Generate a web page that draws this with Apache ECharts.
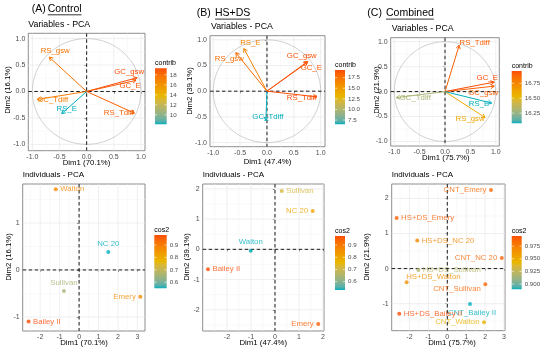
<!DOCTYPE html>
<html><head><meta charset="utf-8">
<script src="https://cdn.jsdelivr.net/npm/echarts@6/dist/echarts.min.js"></script>
<style>html,body{margin:0;padding:0;background:#fff}#c{width:550px;height:351px}</style>
</head><body><div id="c"></div>
<script>
// ================= DATA =================
// Variables - PCA (arrow tips: Dim1, Dim2; contribution)
const varNames = ['GC_gsw', 'GC_E', 'GC_Tdiff', 'RS_gsw', 'RS_E', 'RS_Tdiff'];
const varA_dim1 = [0.93, 0.91, -0.91, -0.69, -0.46, 0.88];
const varA_dim2 = [0.26, 0.21, -0.15, 0.65, -0.42, -0.41];
const varA_contrib = [19.3, 18.9, 17.2, 17.6, 8.1, 18.6];

const varB_dim1 = [0.76, 0.75, -0.02, -0.58, -0.43, 0.93];
const varB_dim2 = [0.58, 0.56, -0.57, 0.75, 0.83, -0.11];
const varB_contrib = [19.2, 19.0, 6.5, 17.8, 16.5, 19.3];

const varC_dim1 = [0.97, 0.97, -0.96, 0.79, 0.92, 0.28];
const varC_dim2 = [0.11, 0.19, -0.12, -0.52, -0.23, 0.93];
const varC_contrib = [16.9, 16.955, 16.3, 16.6, 16.08, 16.9];

// Individuals - PCA
const indA_names = ['Walton', 'NC 20', 'Sullivan', 'Emery', 'Bailey II'];
const indA_dim1 = [-1.2, 1.5, -0.78, 3.15, -2.6];
const indA_dim2 = [1.72, 0.38, -0.45, -0.57, -1.1];
const indA_cos2 = [0.88, 0.552, 0.66, 0.87, 0.98];

const indB_names = ['Sullivan', 'NC 20', 'Walton', 'Bailey II', 'Emery'];
const indB_dim1 = [0.28, 1.57, -1.01, -2.79, 1.8];
const indB_dim2 = [1.93, 1.27, -0.05, -0.66, -2.47];
const indB_cos2 = [0.72, 0.80, 0.532, 0.974, 0.95];

const indC_names = ['CNT_Emery', 'HS+DS_Emery', 'HS+DS_NC 20', 'CNT_NC 20', 'HS+DS_Sullivan',
  'HS+DS_Walton', 'CNT_Sullivan', 'CNT_Bailey II', 'HS+DS_Bailey II', 'CNT_Walton'];
const indC_dim1 = [2.31, -2.68, -1.59, 2.88, -1.53, -2.15, 2.01, 1.2, -2.54, 1.94];
const indC_dim2 = [2.24, 1.44, 0.8, 0.3, -0.04, -0.39, -0.45, -1.01, -1.29, -1.53];
const indC_cos2 = [0.985, 0.99, 0.97, 0.985, 0.92, 0.965, 0.985, 0.8896, 0.995, 0.945];

// Tick labels
const varTicks = [-1, -0.5, 0, 0.5, 1];
const indA_xTicks = [-2, -1, 0, 1, 2, 3];
const indA_yTicks = [-1, 0, 1];
const indB_xTicks = [-2, -1, 0, 1, 2];
const indB_yTicks = [-2, -1, 0, 1, 2];
const indC_xTicks = [-2, -1, 0, 1, 2, 3];
const indC_yTicks = [-1, 0, 1, 2];
const cbA_var = [10, 12, 14, 16, 18];
const cbB_var = [7.5, 10, 12.5, 15, 17.5];
const cbC_var = [16.25, 16.5, 16.75];
const cbA_ind = [0.6, 0.7, 0.8, 0.9];
const cbB_ind = [0.6, 0.7, 0.8, 0.9];
const cbC_ind = [0.9, 0.925, 0.95, 0.975];

// ================= STYLE / LAYOUT =================
const FONT = '"Liberation Sans", Arial, Helvetica, sans-serif';
// label offsets (px) of variable labels from arrow tips
const varA_lab = [[-8, -6], [-6, 5], [15.5, 0], [6, -6], [5, -5], [-15.5, 0]];
const varB_lab = [[-6, -6], [4, 5.5], [2, -4], [-6.5, 6], [6.5, -5.5], [-15, 0.6]];
const varC_lab = [[-11, 6.7], [-7, -4], [19, 0], [-15, 1.6], [-12.7, 1], [15.5, -2.6]];
const indA_lab = [['right'], ['top'], ['top'], ['left'], ['right']];
const indB_lab = [['right'], ['left'], ['top'], ['right'], ['left']];
const indC_lab = [['left'], ['right'], ['right'], ['left'], ['right'], ['right', [-5, -5]],
  ['left', [0, 4]], ['bottom', [2, 0]], ['right'], ['left']];

// ---- Lab colour interpolation (like ggplot gradientn) ----
function hex2rgb(h) { return [1, 3, 5].map(i => parseInt(h.slice(i, i + 2), 16)); }
function s2l(c) { c /= 255; return c <= 0.04045 ? c / 12.92 : Math.pow((c + 0.055) / 1.055, 2.4); }
function l2s(c) { c = c <= 0.0031308 ? 12.92 * c : 1.055 * Math.pow(c, 1 / 2.4) - 0.055; return Math.max(0, Math.min(255, Math.round(c * 255))); }
function rgb2lab(rgb) {
  const [r, g, b] = rgb.map(s2l);
  const X = (0.4124 * r + 0.3576 * g + 0.1805 * b) / 0.95047, Y = 0.2126 * r + 0.7152 * g + 0.0722 * b,
    Z = (0.0193 * r + 0.1192 * g + 0.9505 * b) / 1.08883;
  const f = t => t > 0.008856 ? Math.cbrt(t) : 7.787 * t + 16 / 116;
  const fx = f(X), fy = f(Y), fz = f(Z);
  return [116 * fy - 16, 500 * (fx - fy), 200 * (fy - fz)];
}
function lab2rgb([L, a, b]) {
  const fy = (L + 16) / 116, fx = fy + a / 500, fz = fy - b / 200;
  const fi = t => t > 0.206893 ? t * t * t : (t - 16 / 116) / 7.787;
  const X = fi(fx) * 0.95047, Y = fi(fy), Z = fi(fz) * 1.08883;
  return [3.2406 * X - 1.5372 * Y - 0.4986 * Z, -0.9689 * X + 1.8758 * Y + 0.0415 * Z, 0.0557 * X - 0.2040 * Y + 1.0570 * Z].map(l2s);
}
const gStops = ['#00AFBB', '#E7B800', '#FC4E07'].map(h => rgb2lab(hex2rgb(h)));
function gradColor(t) {
  t = Math.max(0, Math.min(1, t));
  const s = t * (gStops.length - 1), i = Math.min(gStops.length - 2, Math.floor(s)), f = s - i;
  const a = gStops[i], b = gStops[i + 1];
  return 'rgb(' + lab2rgb([0, 1, 2].map(k => a[k] + (b[k] - a[k]) * f)).join(',') + ')';
}

const grids = [], xAxes = [], yAxes = [], series = [], graphics = [];

function minors(t, r) {
  const s = t[1] - t[0], out = [];
  for (let v = t[0] - s / 2; v <= r[1] + 1e-9; v += s) if (v >= r[0] - 1e-9) out.push(v);
  return out;
}

function axisCfg(gi, ticks, range, fmt) {
  return {
    type: 'value', gridIndex: gi, min: range[0], max: range[1],
    axisLine: { show: false }, splitLine: { show: false },
    axisTick: { show: true, length: 2.2, customValues: ticks, lineStyle: { color: '#333', width: 0.7 } },
    axisLabel: { customValues: ticks, formatter: fmt, fontSize: 7, color: '#4D4D4D', margin: 3, fontFamily: FONT }
  };
}

function addPlot(P) {
  const gi = grids.length;
  grids.push({ left: P.box[0], top: P.box[1], width: P.box[2], height: P.box[3], show: true,
    borderColor: '#808080', borderWidth: 0.9, backgroundColor: '#fff' });
  xAxes.push(axisCfg(gi, P.xt, P.xr, P.fmt));
  yAxes.push(axisCfg(gi, P.yt, P.yr, P.fmt));
  const xm = minors(P.xt, P.xr), ym = minors(P.yt, P.yr);
  series.push({
    type: 'custom', xAxisIndex: gi, yAxisIndex: gi, silent: true, z: 1, data: [[0, 0]],
    renderItem: (params, api) => {
      const cs = params.coordSys, ch = [];
      const L = cs.x, R = cs.x + cs.width, T = cs.y, B = cs.y + cs.height;
      const vl = (v, c, w) => { const X = api.coord([v, 0])[0]; ch.push({ type: 'line', shape: { x1: X, y1: T, x2: X, y2: B }, style: { stroke: c, lineWidth: w } }); };
      const hl = (v, c, w) => { const Y = api.coord([0, v])[1]; ch.push({ type: 'line', shape: { x1: L, y1: Y, x2: R, y2: Y }, style: { stroke: c, lineWidth: w } }); };
      xm.forEach(v => vl(v, '#F2F2F2', 0.5)); ym.forEach(v => hl(v, '#F2F2F2', 0.5));
      P.xt.forEach(v => vl(v, '#E8E8E8', 0.7)); P.yt.forEach(v => hl(v, '#E8E8E8', 0.7));
      if (P.circle) {
        const pts = [];
        for (let k = 0; k <= 120; k++) { const a = k / 120 * Math.PI * 2; pts.push(api.coord([Math.cos(a), Math.sin(a)])); }
        ch.push({ type: 'polyline', shape: { points: pts }, style: { stroke: '#C4C4C4', lineWidth: 0.8, fill: null } });
      }
      const X0 = api.coord([0, 0]);
      ch.push({ type: 'line', shape: { x1: X0[0], y1: T, x2: X0[0], y2: B }, style: { stroke: '#1a1a1a', lineWidth: 1, lineDash: [3.5, 2.5] } });
      ch.push({ type: 'line', shape: { x1: L, y1: X0[1], x2: R, y2: X0[1] }, style: { stroke: '#1a1a1a', lineWidth: 1, lineDash: [3.5, 2.5] } });
      return { type: 'group', children: ch };
    }
  });
  const vmin = Math.min(...P.v), vmax = Math.max(...P.v);
  const col = i => gradColor((P.v[i] - vmin) / (vmax - vmin));
  if (P.kind === 'var') {
    series.push({
      type: 'custom', xAxisIndex: gi, yAxisIndex: gi, silent: true, z: 3,
      data: P.x.map((x, i) => [x, P.y[i], P.v[i]]),
      renderItem: (params, api) => {
        const i = params.dataIndex, c = col(i);
        const o = api.coord([0, 0]), t = api.coord([api.value(0), api.value(1)]);
        const ang = Math.atan2(t[1] - o[1], t[0] - o[0]), hl = 4.2, ha = Math.PI / 6;
        const p1 = [t[0] - hl * Math.cos(ang - ha), t[1] - hl * Math.sin(ang - ha)];
        const p2 = [t[0] - hl * Math.cos(ang + ha), t[1] - hl * Math.sin(ang + ha)];
        const off = P.lab[i];
        return { type: 'group', children: [
          { type: 'line', shape: { x1: o[0], y1: o[1], x2: t[0], y2: t[1] }, style: { stroke: c, lineWidth: 1 } },
          { type: 'polyline', shape: { points: [p1, t, p2] }, style: { stroke: c, lineWidth: 1, fill: null } },
          { type: 'text', x: t[0] + off[0], y: t[1] + off[1], style: { text: P.names[i], fill: c, fontSize: 7.8, fontFamily: FONT, align: 'center', verticalAlign: 'middle' } }
        ] };
      }
    });
  } else {
    series.push({
      type: 'scatter', xAxisIndex: gi, yAxisIndex: gi, z: 3, symbolSize: 4, silent: true,
      data: P.x.map((x, i) => ({
        value: [x, P.y[i]], name: P.names[i], itemStyle: { color: col(i) },
        label: { show: true, formatter: P.names[i], color: col(i), position: P.lab[i][0], offset: P.lab[i][1] || [0, 0],
          distance: 2.5, fontSize: 7.8, fontFamily: FONT }
      }))
    });
  }
  // colour bar
  const cb = P.cb, cgi = grids.length;
  grids.push({ left: cb.box[0], top: cb.box[1], width: cb.box[2], height: cb.box[3], show: false });
  xAxes.push({ type: 'value', gridIndex: cgi, min: 0, max: 1, show: false });
  yAxes.push({ type: 'value', gridIndex: cgi, min: vmin, max: vmax, position: 'right',
    axisLine: { show: false }, axisTick: { show: false }, splitLine: { show: false },
    axisLabel: { customValues: cb.ticks, formatter: v => v.toFixed(cb.dec), fontSize: 6.2, color: '#4D4D4D', margin: 3, fontFamily: FONT } });
  const stops = [];
  for (let k = 0; k <= 24; k++) stops.push({ offset: k / 24, color: gradColor(k / 24) });
  series.push({
    type: 'custom', xAxisIndex: cgi, yAxisIndex: cgi, silent: true, z: 2, data: [[0.5, vmin]],
    renderItem: (params, api) => {
      const cs = params.coordSys, ch = [];
      ch.push({ type: 'rect', shape: { x: cs.x, y: cs.y, width: cs.width, height: cs.height },
        style: { fill: { type: 'linear', x: 0, y: 1, x2: 0, y2: 0, colorStops: stops } } });
      cb.ticks.forEach(v => {
        const Y = api.coord([0, v])[1];
        ch.push({ type: 'line', shape: { x1: cs.x, y1: Y, x2: cs.x + 2.2, y2: Y }, style: { stroke: '#fff', lineWidth: 0.6 } });
        ch.push({ type: 'line', shape: { x1: cs.x + cs.width - 2.2, y1: Y, x2: cs.x + cs.width, y2: Y }, style: { stroke: '#fff', lineWidth: 0.6 } });
      });
      return { type: 'group', children: ch };
    }
  });
  graphics.push({ type: 'text', x: cb.box[0], y: cb.box[1] - 5, style: { text: cb.title, fontSize: 7, fill: '#000', fontFamily: FONT, align: 'left', verticalAlign: 'middle' } });
  // titles
  graphics.push({ type: 'text', x: P.title[1], y: P.title[2], style: { text: P.title[0], fontSize: P.title[3], fill: '#000', fontFamily: FONT, align: 'left', verticalAlign: 'middle' } });
  graphics.push({ type: 'text', x: P.xlab[1], y: P.xlab[2], style: { text: P.xlab[0], fontSize: 7.8, fill: '#000', fontFamily: FONT, align: 'center', verticalAlign: 'middle' } });
  graphics.push({ type: 'text', x: P.ylab[1], y: P.ylab[2], rotation: Math.PI / 2, style: { text: P.ylab[0], fontSize: 7.8, fill: '#000', fontFamily: FONT, align: 'center', verticalAlign: 'middle' } });
}

const f1 = v => v.toFixed(1), f0 = v => String(v);

addPlot({ kind: 'var', box: [28.3, 33.3, 116.7, 117.4], xr: [-1.075, 1.075], yr: [-1.12, 1.1], xt: varTicks, yt: varTicks, fmt: f1, circle: true,
  names: varNames, x: varA_dim1, y: varA_dim2, v: varA_contrib, lab: varA_lab,
  cb: { box: [155, 68.3, 11.7, 56], ticks: cbA_var, dec: 0, title: 'contrib' },
  title: ['Variables - PCA', 28.3, 25, 8.8], xlab: ['Dim1 (70.1%)', 86.5, 163.3], ylab: ['Dim2 (16.1%)', 7.5, 90] });
addPlot({ kind: 'var', box: [210, 35.7, 115, 111], xr: [-1.06, 1.08], yr: [-1.08, 1.08], xt: varTicks, yt: varTicks, fmt: f1, circle: true,
  names: varNames, x: varB_dim1, y: varB_dim2, v: varB_contrib, lab: varB_lab,
  cb: { box: [335, 70, 10, 54.3], ticks: cbB_var, dec: 1, title: 'contrib' },
  title: ['Variables - PCA', 211, 26.7, 8.8], xlab: ['Dim1 (47.4%)', 267.5, 161.7], ylab: ['Dim2 (39.1%)', 190, 91] });
addPlot({ kind: 'var', box: [390.7, 37.7, 108.6, 108.3], xr: [-1.07, 1.07], yr: [-1.09, 1.08], xt: varTicks, yt: varTicks, fmt: f1, circle: true,
  names: varNames, x: varC_dim1, y: varC_dim2, v: varC_contrib, lab: varC_lab,
  cb: { box: [511.7, 71, 10, 52.3], ticks: cbC_var, dec: 2, title: 'contrib' },
  title: ['Variables - PCA', 391.7, 28.3, 8.8], xlab: ['Dim1 (75.7%)', 445.8, 158.3], ylab: ['Dim2 (21.9%)', 376.7, 90] });

addPlot({ kind: 'ind', box: [22.7, 184, 122.3, 147], xr: [-2.9, 3.39], yr: [-1.3, 1.83], xt: indA_xTicks, yt: indA_yTicks, fmt: f0,
  names: indA_names, x: indA_dim1, y: indA_dim2, v: indA_cos2, lab: indA_lab,
  cb: { box: [154.3, 235, 12.4, 53.3], ticks: cbA_ind, dec: 1, title: 'cos2' },
  title: ['Individuals - PCA', 22.7, 175, 8], xlab: ['Dim1 (70.1%)', 84, 342.7], ylab: ['Dim2 (16.1%)', 9, 257] });
addPlot({ kind: 'ind', box: [202.7, 184, 121.3, 147], xr: [-3.01, 2.04], yr: [-2.7, 2.16], xt: indB_xTicks, yt: indB_yTicks, fmt: f0,
  names: indB_names, x: indB_dim1, y: indB_dim2, v: indB_cos2, lab: indB_lab,
  cb: { box: [335, 236, 10, 54], ticks: cbB_ind, dec: 1, title: 'cos2' },
  title: ['Individuals - PCA', 202.7, 175, 8], xlab: ['Dim1 (47.4%)', 263.3, 343.3], ylab: ['Dim2 (39.1%)', 186.7, 257] });
addPlot({ kind: 'ind', box: [391.7, 184, 113.3, 146.7], xr: [-2.94, 3.05], yr: [-1.77, 2.41], xt: indC_xTicks, yt: indC_yTicks, fmt: f0,
  names: indC_names, x: indC_dim1, y: indC_dim2, v: indC_cos2, lab: indC_lab,
  cb: { box: [511.7, 236, 10, 53.3], ticks: cbC_ind, dec: 3, title: 'cos2' },
  title: ['Individuals - PCA', 391.7, 175, 8], xlab: ['Dim1 (75.7%)', 452, 342.7], ylab: ['Dim2 (21.9%)', 367, 257] });

// panel headings with underlined names
const heads = [['(A)', 31.7, 'Control', 47.7, 9], ['(B)', 196.7, 'HS+DS', 215, 13.3], ['(C)', 367.3, 'Combined', 386, 13.3]];
heads.forEach(h => {
  graphics.push({ type: 'text', x: h[1], y: h[4], style: { text: h[0], fontSize: 10.5, fill: '#000', fontFamily: FONT, align: 'left', verticalAlign: 'middle' } });
  graphics.push({ type: 'text', x: h[3], y: h[4], style: { text: h[2], fontSize: 10.5, fill: '#000', fontFamily: FONT, align: 'left', verticalAlign: 'middle' } });
});

const chart = echarts.init(document.getElementById('c'), null, { renderer: 'canvas', width: 550, height: 351 });
chart.setOption({ animation: false, backgroundColor: '#fff', grid: grids, xAxis: xAxes, yAxis: yAxes, series: series, graphic: graphics });

// underline widths measured from rendered text
const ctxW = (t, s) => { const cv = document.createElement('canvas').getContext('2d'); cv.font = s + 'px ' + FONT; return cv.measureText(t).width; };
const ul = heads.map(h => ({ type: 'line', shape: { x1: h[3], y1: h[4] + 5.8, x2: h[3] + ctxW(h[2], 10.5), y2: h[4] + 5.8 }, style: { stroke: '#000', lineWidth: 0.8 } }));
chart.setOption({ graphic: graphics.concat(ul) });
</script>
</body></html>
